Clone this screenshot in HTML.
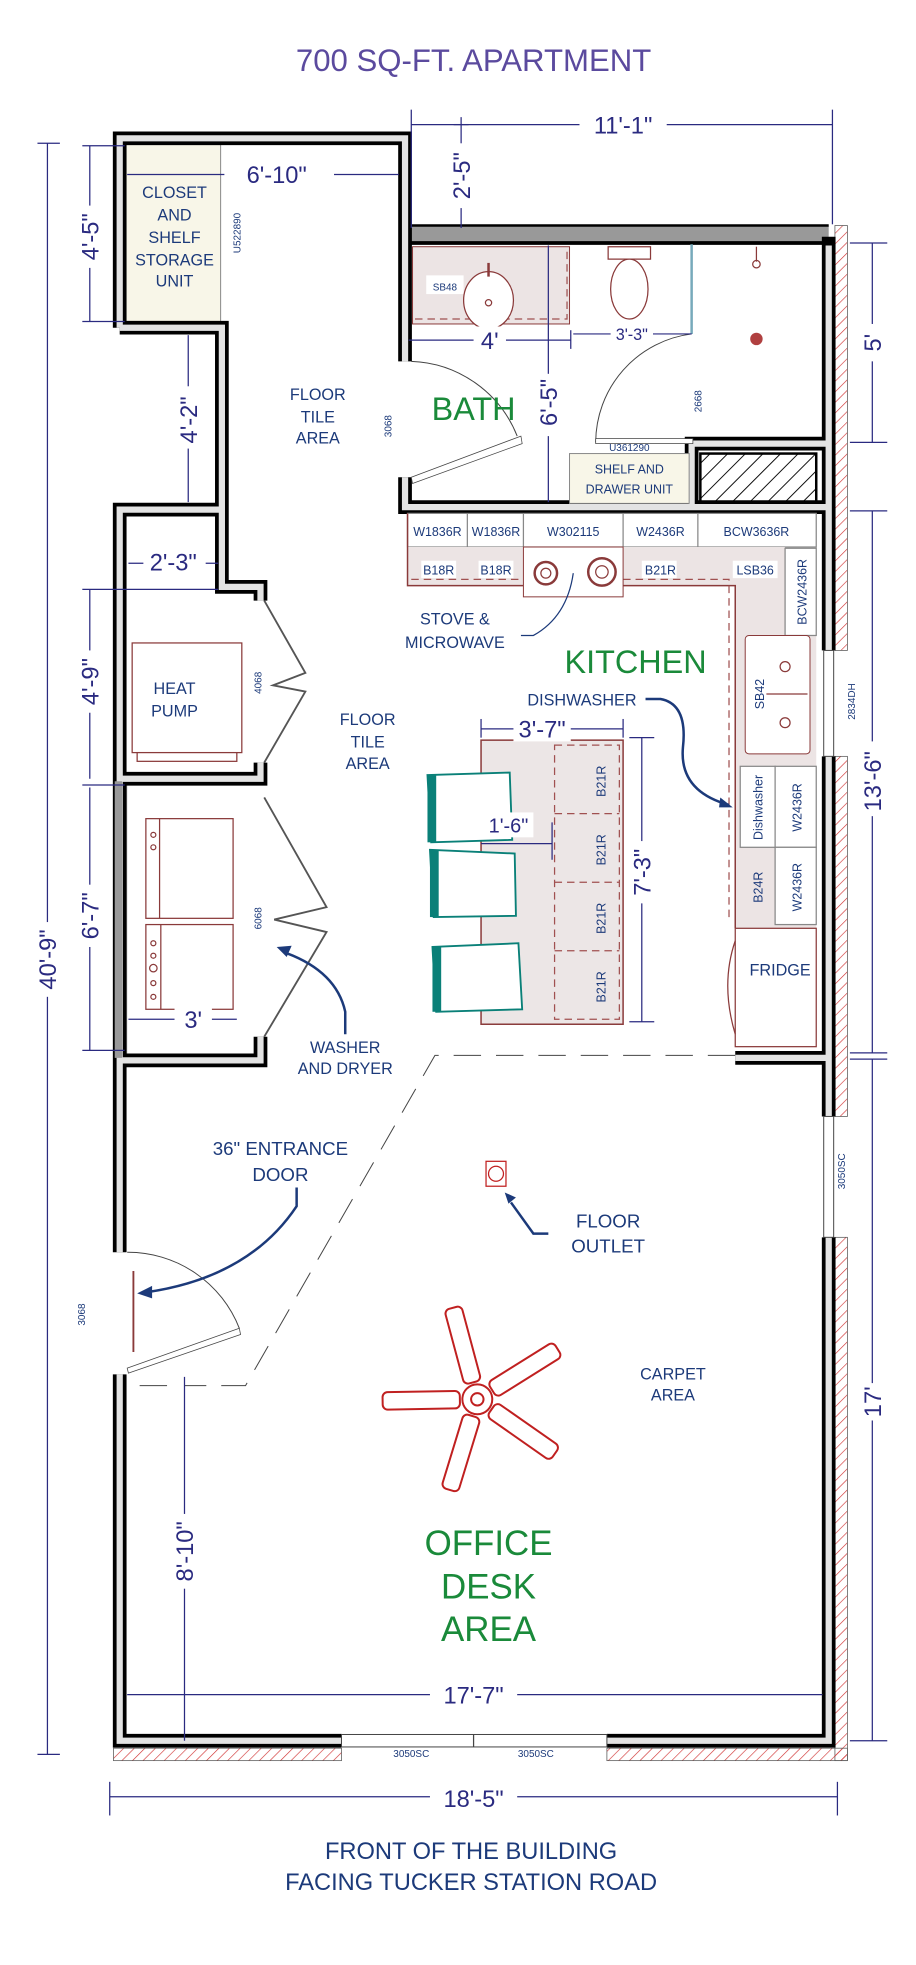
<!DOCTYPE html>
<html><head><meta charset="utf-8"><style>
html,body{margin:0;padding:0;background:#fff}
svg{display:block}
text{font-family:"Liberation Sans",sans-serif}
.d{fill:#2a2a80}
.l{fill:#1c3a7a}
.g{fill:#1a8a3a}
.dim{stroke:#2a2a80;stroke-width:1;fill:none}
.sm{font-size:8px;fill:#1c3a7a}
</style></head><body>
<svg width="916" height="1965" viewBox="0 0 735 1577" xmlns="http://www.w3.org/2000/svg">
<rect width="735" height="1577" fill="#fff"/>
<text x="380" y="57" font-size="25" text-anchor="middle" fill="#5b4a9e">700 SQ-FT. APARTMENT</text>

<defs>
<pattern id="h" width="6" height="6" patternUnits="userSpaceOnUse" patternTransform="rotate(45)"><line x1="0" y1="0" x2="0" y2="6" stroke="#d03030" stroke-width="1"/></pattern>
<pattern id="hb" width="10" height="10" patternUnits="userSpaceOnUse" patternTransform="rotate(45)"><line x1="0" y1="0" x2="0" y2="10" stroke="#000" stroke-width="1.5"/></pattern>
</defs>
<rect x="670" y="181" width="10" height="341" fill="url(#h)" stroke="#555" stroke-width="0.6"/>
<rect x="670" y="607" width="10" height="289" fill="url(#h)" stroke="#555" stroke-width="0.6"/>
<rect x="670" y="993" width="10" height="420" fill="url(#h)" stroke="#555" stroke-width="0.6"/>
<rect x="91" y="1403" width="183" height="10" fill="url(#h)" stroke="#555" stroke-width="0.6"/>
<rect x="487" y="1403" width="193" height="10" fill="url(#h)" stroke="#555" stroke-width="0.6"/>

<rect x="101" y="116" width="76" height="142" fill="#f8f6e8" stroke="#888" stroke-width="0.8"/>
<rect x="325" y="181" width="340" height="14" fill="#999"/>
<line x1="325" y1="195" x2="665" y2="195" stroke="#000" stroke-width="3"/>
<line x1="325" y1="181" x2="665" y2="181" stroke="#000" stroke-width="2"/>
<rect x="91" y="625" width="11" height="228" fill="#999"/>

<g fill="none" stroke-linejoin="miter">
<g stroke="#000" stroke-width="11">
<path d="M96,1005 V409 H178 M96,263 V111 H325 V290 M96,263 H178 V471 H209 V482"/>
<path d="M325,383 V407 H665"/>
<path d="M555,407 V356 H665"/>
<path d="M665,190 V522 M665,607 V896 M665,993 V1397 H487 M274,1397 H96 V1103"/>
<path d="M209,612 V625 H96 M209,832 V851 H96"/>
<path d="M590,849 H665"/>
</g>
<g stroke="#e3e3e3" stroke-width="5">
<path d="M96,1005 V409 H178 M96,263 V111 H325 V290 M96,263 H178 V471 H209 V482"/>
<path d="M325,383 V407 H665"/>
<path d="M555,407 V356 H665"/>
<path d="M665,197 V522 M665,607 V896 M665,993 V1397 H487 M274,1397 H96 V1103"/>
<path d="M209,612 V625 H96 M209,832 V851 H96"/>
<path d="M590,849 H665"/>
</g>
</g>
<rect x="92" y="627" width="6" height="222" fill="#999"/>
<rect x="661" y="522" width="8" height="85" fill="#fff" stroke="#444" stroke-width="0.8"/>
<rect x="661" y="896" width="8" height="97" fill="#fff" stroke="#444" stroke-width="0.8"/>
<rect x="274" y="1392" width="213" height="10" fill="#fff" stroke="#444" stroke-width="0.8"/>
<line x1="380" y1="1392" x2="380" y2="1402" stroke="#444"/>

<rect x="331" y="198" width="126" height="62" fill="#ece4e4" stroke="#8a3a3a" stroke-width="0.8"/>
<path d="M333,256 H455 V200" fill="none" stroke="#a05050" stroke-dasharray="6,4"/>
<rect x="342" y="221" width="30" height="15" fill="#fff"/>
<text x="357" y="233" class="sm" text-anchor="middle" font-size="9">SB48</text>
<ellipse cx="392" cy="241" rx="20" ry="23" fill="#fff" stroke="#8a3a3a"/>
<circle cx="392" cy="243" r="2.5" fill="none" stroke="#8a3a3a"/>
<line x1="392" y1="211" x2="392" y2="222" stroke="#8a3a3a" stroke-width="2"/>
<path d="M488,198 h34 v10 h-34z" fill="#fff" stroke="#8a3a3a"/>
<ellipse cx="505" cy="232" rx="15" ry="24" fill="#fff" stroke="#8a3a3a"/>
<line x1="555" y1="196" x2="555" y2="268" stroke="#7ab" stroke-width="2"/>
<circle cx="607" cy="212" r="3" fill="none" stroke="#8a3a3a"/>
<line x1="607" y1="198" x2="607" y2="210" stroke="#8a3a3a"/>
<circle cx="607" cy="272" r="5" fill="#b04040"/>
<path d="M555,268 A88,88 0 0 0 478,355" fill="none" stroke="#444" stroke-width="0.8"/>
<rect x="478" y="352" width="78" height="4" fill="#fff" stroke="#444" stroke-width="0.6"/>
<text transform="translate(563,322) rotate(-90)" class="sm" text-anchor="middle" font-size="9">2668</text>
<text x="505" y="362" class="sm" text-anchor="middle" font-size="9">U361290</text>
<rect x="457" y="364" width="96" height="40" fill="#f8f6e8" stroke="#888" stroke-width="0.8"/>
<text x="505" y="380" class="l" font-size="10" text-anchor="middle">SHELF AND</text>
<text x="505" y="396" class="l" font-size="10" text-anchor="middle">DRAWER UNIT</text>
<rect x="562" y="364" width="93" height="39" fill="url(#hb)" stroke="#000" stroke-width="2"/>
<path d="M330,290 A95,95 0 0 1 415,350" fill="none" stroke="#444" stroke-width="0.8"/>
<path d="M330,383 L418,350 L419,356 L331,388z" fill="#fff" stroke="#444" stroke-width="0.6"/>
<text transform="translate(314,342) rotate(-90)" class="sm" text-anchor="middle" font-size="9">3068</text>

<g class="l" font-size="13" text-anchor="middle">
<text x="140" y="159">CLOSET</text><text x="140" y="177">AND</text><text x="140" y="195">SHELF</text><text x="140" y="213">STORAGE</text><text x="140" y="230">UNIT</text>
</g>
<text transform="translate(193,187) rotate(-90)" class="sm" text-anchor="middle" font-size="9">U522890</text>
<g class="l" font-size="13" text-anchor="middle">
<text x="255" y="321">FLOOR</text><text x="255" y="339">TILE</text><text x="255" y="356">AREA</text>
<text x="295" y="582">FLOOR</text><text x="295" y="600">TILE</text><text x="295" y="617">AREA</text>
</g>
<text x="380" y="337" class="g" font-size="26" text-anchor="middle">BATH</text>

<g stroke="#888" stroke-width="1" fill="#fff">
<rect x="327" y="412" width="328" height="27"/>
<line x1="375" y1="412" x2="375" y2="470"/><line x1="420" y1="412" x2="420" y2="439"/><line x1="500" y1="412" x2="500" y2="470"/><line x1="560" y1="412" x2="560" y2="439"/>
</g>
<path d="M327,439 H630 V510 H655 V745 H590 V470 H327Z" fill="#ece4e4" stroke="none"/>
<path d="M327,412 V470 H590 V745" fill="none" stroke="#8a3a3a" stroke-width="1.2"/>
<path d="M330,465 H585 V740" fill="none" stroke="#a05050" stroke-dasharray="6,4"/>
<rect x="420" y="439" width="80" height="40" fill="#fff" stroke="#8a3a3a" stroke-width="0.8"/>
<circle cx="438" cy="460" r="9" fill="none" stroke="#8a3a3a" stroke-width="2"/><circle cx="438" cy="460" r="4" fill="none" stroke="#8a3a3a"/>
<circle cx="483" cy="459" r="11" fill="none" stroke="#8a3a3a" stroke-width="2"/><circle cx="483" cy="459" r="5" fill="none" stroke="#8a3a3a"/>
<rect x="630" y="440" width="25" height="70" fill="#fff" stroke="#888"/>
<g class="l" font-size="10" text-anchor="middle">
<text x="351" y="430">W1836R</text><text x="398" y="430">W1836R</text><text x="460" y="430">W302115</text><text x="530" y="430">W2436R</text><text x="607" y="430">BCW3636R</text>
</g>
<g font-size="10" text-anchor="middle">
<rect x="338" y="450" width="28" height="14" fill="#fff"/><text x="352" y="461" class="l">B18R</text>
<rect x="384" y="450" width="28" height="14" fill="#fff"/><text x="398" y="461" class="l">B18R</text>
<rect x="515" y="450" width="28" height="14" fill="#fff"/><text x="530" y="461" class="l">B21R</text>
<rect x="588" y="450" width="36" height="14" fill="#fff"/><text x="606" y="461" class="l">LSB36</text>
</g>
<text transform="translate(647,475) rotate(-90)" class="l" font-size="10" text-anchor="middle">BCW2436R</text>
<rect x="598" y="510" width="52" height="95" rx="3" fill="#fff" stroke="#8a3a3a" stroke-width="0.8"/>
<circle cx="630" cy="535" r="4" fill="none" stroke="#8a3a3a"/><circle cx="630" cy="580" r="4" fill="none" stroke="#8a3a3a"/>
<line x1="615" y1="557" x2="648" y2="557" stroke="#8a3a3a"/>
<text transform="translate(613,557) rotate(-90)" class="l" font-size="10" text-anchor="middle">SB42</text>
<text transform="translate(686,563) rotate(-90)" class="sm" text-anchor="middle" font-size="9">2834DH</text>
<g stroke="#888" fill="#fff">
<rect x="594" y="615" width="28" height="65"/><rect x="622" y="615" width="33" height="65"/>
<rect x="622" y="680" width="33" height="62"/>
</g>
<g class="l" font-size="10" text-anchor="middle">
<text transform="translate(612,648) rotate(-90)">Dishwasher</text>
<text transform="translate(643,648) rotate(-90)">W2436R</text>
<text transform="translate(612,712) rotate(-90)">B24R</text>
<text transform="translate(643,712) rotate(-90)">W2436R</text>
</g>
<rect x="590" y="745" width="65" height="95" fill="#fff" stroke="#8a3a3a" stroke-width="1"/>
<path d="M590,755 Q578,790 590,830" fill="none" stroke="#8a3a3a"/>
<text x="626" y="783" class="l" font-size="13" text-anchor="middle">FRIDGE</text>

<g class="l" font-size="13" text-anchor="middle">
<text x="365" y="501">STOVE &amp;</text><text x="365" y="520">MICROWAVE</text>
<text x="467" y="566">DISHWASHER</text>
</g>
<path d="M418,510 H428 Q455,495 460,460" fill="none" stroke="#1c3a7a"/>
<path d="M518,561 H530 Q552,565 548,600 Q545,635 585,646" fill="none" stroke="#1c3a7a" stroke-width="2"/>
<path d="M588,648 l-10,-8 l-1,8z" fill="#1c3a7a"/>
<text x="510" y="540" class="g" font-size="26" text-anchor="middle">KITCHEN</text>

<rect x="386" y="594" width="114" height="228" fill="#ece6e6" stroke="#8a3a3a" stroke-width="1.2"/>
<rect x="445" y="598" width="52" height="220" fill="none" stroke="#a05050" stroke-dasharray="6,4"/>
<g stroke="#a05050" stroke-dasharray="6,4"><line x1="445" y1="653" x2="497" y2="653"/><line x1="445" y1="708" x2="497" y2="708"/><line x1="445" y1="763" x2="497" y2="763"/></g>
<g class="l" font-size="10" text-anchor="middle">
<text transform="translate(486,627) rotate(-90)">B21R</text><text transform="translate(486,682) rotate(-90)">B21R</text>
<text transform="translate(486,737) rotate(-90)">B21R</text><text transform="translate(486,792) rotate(-90)">B21R</text>
</g>
<g fill="#fff" stroke="#0a8078" stroke-width="1.5">
<path d="M343,622 L409,620 L411,674 L346,676Z"/><path d="M345,682 L413,685 L414,735 L348,736Z"/><path d="M347,760 L416,757 L419,810 L350,812Z"/>
</g>
<g fill="#0a8078"><rect x="343" y="622" width="7" height="54"/><rect x="345" y="682" width="7" height="54"/><rect x="347" y="760" width="7" height="52"/></g>

<rect x="106" y="516" width="88" height="88" fill="#fff" stroke="#8a3a3a"/>
<rect x="110" y="604" width="80" height="7" fill="#fff" stroke="#8a3a3a"/>
<text x="140" y="557" class="l" font-size="13" text-anchor="middle">HEAT</text>
<text x="140" y="575" class="l" font-size="13" text-anchor="middle">PUMP</text>
<text transform="translate(210,548) rotate(-90)" class="sm" text-anchor="middle" font-size="9">4068</text>
<path d="M212,482 L245,540 L219,550 L245,555 L212,612" fill="none" stroke="#555" stroke-width="1.5"/>
<rect x="117" y="657" width="70" height="80" fill="#fff" stroke="#8a3a3a"/>
<rect x="117" y="742" width="70" height="68" fill="#fff" stroke="#8a3a3a"/>
<line x1="128" y1="657" x2="128" y2="737" stroke="#8a3a3a"/><line x1="129" y1="742" x2="129" y2="810" stroke="#8a3a3a"/>
<g fill="none" stroke="#8a3a3a"><circle cx="123" cy="757" r="2"/><circle cx="123" cy="767" r="2"/><circle cx="123" cy="777" r="3"/><circle cx="123" cy="789" r="2"/><circle cx="123" cy="800" r="2"/><circle cx="123" cy="670" r="2"/><circle cx="123" cy="680" r="2"/></g>
<text transform="translate(210,737) rotate(-90)" class="sm" text-anchor="middle" font-size="9">6068</text>
<path d="M212,640 L262,728 L220,738 L262,748 L212,832" fill="none" stroke="#555" stroke-width="1.5"/>
<g class="l" font-size="13" text-anchor="middle"><text x="277" y="845">WASHER</text><text x="277" y="862">AND DRYER</text></g>
<path d="M277,830 V812 Q270,780 230,765" fill="none" stroke="#1c3a7a" stroke-width="2"/>
<path d="M222,760 l12,-1 l-4,9z" fill="#1c3a7a"/>

<path d="M590,847 H349 L197,1112 H148 M134,1112 H101" fill="none" stroke="#444" stroke-width="0.8" stroke-dasharray="22,12"/>

<path d="M102,1005 A96,96 0 0 1 192,1066" fill="none" stroke="#444" stroke-width="0.8"/>
<path d="M102,1098 L192,1066 L193,1071 L103,1102Z" fill="#fff" stroke="#444" stroke-width="0.6"/>
<line x1="107" y1="1020" x2="107" y2="1085" stroke="#8a3a3a" stroke-width="1.5"/>
<text transform="translate(68,1055) rotate(-90)" class="sm" text-anchor="middle" font-size="9">3068</text>
<g class="l" font-size="15" text-anchor="middle"><text x="225" y="927">36" ENTRANCE</text><text x="225" y="948">DOOR</text></g>
<path d="M238,953 V968 Q200,1025 118,1037" fill="none" stroke="#1c3a7a" stroke-width="2"/>
<path d="M110,1038 l12,-6 l0,10z" fill="#1c3a7a"/>

<rect x="390" y="932" width="16" height="20" fill="#fff" stroke="#c02020"/>
<circle cx="398" cy="942" r="6" fill="none" stroke="#c02020"/>
<g class="l" font-size="15" text-anchor="middle"><text x="488" y="985">FLOOR</text><text x="488" y="1005">OUTLET</text></g>
<path d="M440,990 H428 L410,965" fill="none" stroke="#1c3a7a" stroke-width="2"/>
<path d="M405,957 l9,4 l-6,5z" fill="#1c3a7a"/>

<g fill="#fff" stroke="#c02020" stroke-width="1.6">
<g transform="translate(383,1123)">
<rect x="14" y="-7" width="62" height="14" rx="4" transform="rotate(-105)"/>
<rect x="14" y="-7" width="62" height="14" rx="4" transform="rotate(-32)"/>
<rect x="14" y="-7" width="62" height="14" rx="4" transform="rotate(35)"/>
<rect x="14" y="-7" width="62" height="14" rx="4" transform="rotate(107)"/>
<rect x="14" y="-7" width="62" height="14" rx="4" transform="rotate(179)"/>
<circle r="12"/><circle r="5"/>
</g></g>
<g class="l" font-size="13" text-anchor="middle"><text x="540" y="1107">CARPET</text><text x="540" y="1124">AREA</text></g>
<g class="g" font-size="28" text-anchor="middle"><text x="392" y="1248">OFFICE</text><text x="392" y="1283">DESK</text><text x="392" y="1317">AREA</text></g>
<text transform="translate(678,940) rotate(-90)" class="sm" text-anchor="middle" font-size="9">3050SC</text>
<text x="330" y="1410" class="sm" text-anchor="middle" font-size="9">3050SC</text>
<text x="430" y="1410" class="sm" text-anchor="middle" font-size="9">3050SC</text>

<g class="dim">
<line x1="38" y1="115" x2="38" y2="1408"/><line x1="30" y1="115" x2="48" y2="115"/><line x1="30" y1="1408" x2="48" y2="1408"/>
<line x1="72" y1="117" x2="72" y2="258"/><line x1="66" y1="117" x2="100" y2="117"/><line x1="66" y1="258" x2="100" y2="258"/>
<line x1="151" y1="269" x2="151" y2="403"/>
<line x1="72" y1="473" x2="72" y2="625"/><line x1="66" y1="473" x2="175" y2="473"/><line x1="66" y1="630" x2="100" y2="630"/>
<line x1="72" y1="632" x2="72" y2="843"/><line x1="66" y1="843" x2="100" y2="843"/>
<line x1="103" y1="452" x2="175" y2="452"/>
<line x1="103" y1="818" x2="190" y2="818"/>
<line x1="102" y1="140" x2="320" y2="140"/>
<line x1="330" y1="100" x2="668" y2="100"/><line x1="330" y1="88" x2="330" y2="183"/><line x1="668" y1="88" x2="668" y2="180"/>
<line x1="370" y1="94" x2="370" y2="183"/><line x1="364" y1="100" x2="376" y2="100"/>
<line x1="700" y1="195" x2="700" y2="355"/><line x1="682" y1="195" x2="712" y2="195"/><line x1="682" y1="355" x2="712" y2="355"/>
<line x1="700" y1="410" x2="700" y2="845"/><line x1="682" y1="410" x2="712" y2="410"/><line x1="682" y1="845" x2="712" y2="845"/>
<line x1="700" y1="850" x2="700" y2="1397"/><line x1="682" y1="850" x2="712" y2="850"/><line x1="682" y1="1397" x2="712" y2="1397"/>
<line x1="328" y1="273" x2="458" y2="273"/><line x1="458" y1="265" x2="458" y2="280"/>
<line x1="460" y1="268" x2="555" y2="268"/>
<line x1="440" y1="197" x2="440" y2="403"/>
<line x1="386" y1="585" x2="500" y2="585"/><line x1="386" y1="577" x2="386" y2="592"/><line x1="500" y1="577" x2="500" y2="592"/>
<line x1="515" y1="592" x2="515" y2="820"/><line x1="505" y1="592" x2="525" y2="592"/><line x1="505" y1="820" x2="525" y2="820"/>
<line x1="386" y1="677" x2="443" y2="677"/><line x1="443" y1="660" x2="443" y2="690"/>
<line x1="148" y1="1105" x2="148" y2="1397"/>
<line x1="102" y1="1360" x2="660" y2="1360"/>
<line x1="88" y1="1442" x2="672" y2="1442"/><line x1="88" y1="1430" x2="88" y2="1457"/><line x1="672" y1="1430" x2="672" y2="1457"/>
</g>
<g class="d" font-size="19" text-anchor="middle">
<rect x="20" y="740" width="36" height="60" fill="#fff"/><text transform="translate(45,770) rotate(-90)">40'-9"</text>
<rect x="62" y="165" width="20" height="50" fill="#fff"/><text transform="translate(79,190) rotate(-90)">4'-5"</text>
<rect x="141" y="310" width="20" height="50" fill="#fff"/><text transform="translate(158,337) rotate(-90)">4'-2"</text>
<rect x="62" y="522" width="20" height="50" fill="#fff"/><text transform="translate(79,547) rotate(-90)">4'-9"</text>
<rect x="62" y="710" width="20" height="50" fill="#fff"/><text transform="translate(79,735) rotate(-90)">6'-7"</text>
<rect x="115" y="440" width="50" height="20" fill="#fff"/><text x="139" y="458">2'-3"</text>
<rect x="140" y="806" width="30" height="22" fill="#fff"/><text x="155" y="825">3'</text>
<rect x="180" y="125" width="88" height="24" fill="#fff"/><text x="222" y="147">6'-10"</text>
<rect x="465" y="88" width="70" height="24" fill="#fff"/><text x="500" y="107">11'-1"</text>
<rect x="360" y="115" width="20" height="52" fill="#fff"/><text transform="translate(377,141) rotate(-90)">2'-5"</text>
<rect x="690" y="260" width="20" height="30" fill="#fff"/><text transform="translate(707,275) rotate(-90)">5'</text>
<rect x="690" y="595" width="20" height="60" fill="#fff"/><text transform="translate(707,627) rotate(-90)">13'-6"</text>
<rect x="690" y="1110" width="20" height="30" fill="#fff"/><text transform="translate(707,1125) rotate(-90)">17'</text>
<rect x="380" y="262" width="26" height="22" fill="#fff"/><text x="393" y="280">4'</text>
<rect x="430" y="300" width="20" height="50" fill="#fff"/><text transform="translate(447,323) rotate(-90)">6'-5"</text>
<rect x="412" y="573" width="46" height="22" fill="#fff"/><text x="435" y="592">3'-7"</text>
<rect x="505" y="675" width="20" height="50" fill="#fff"/><text transform="translate(522,700) rotate(-90)">7'-3"</text>
<rect x="138" y="1215" width="20" height="60" fill="#fff"/><text transform="translate(155,1245) rotate(-90)">8'-10"</text>
<rect x="345" y="1347" width="70" height="24" fill="#fff"/><text x="380" y="1367">17'-7"</text>
<rect x="345" y="1430" width="70" height="24" fill="#fff"/><text x="380" y="1450">18'-5"</text>
</g>
<rect x="490" y="260" width="34" height="16" fill="#fff"/><text x="507" y="273" class="d" font-size="13" text-anchor="middle">3'-3"</text>
<rect x="388" y="652" width="40" height="20" fill="#fff"/><text x="408" y="668" class="d" font-size="16" text-anchor="middle">1'-6"</text>

<g class="l" font-size="19" text-anchor="middle"><text x="378" y="1492">FRONT OF THE BUILDING</text><text x="378" y="1517">FACING TUCKER STATION ROAD</text></g>
</svg>
</body></html>
